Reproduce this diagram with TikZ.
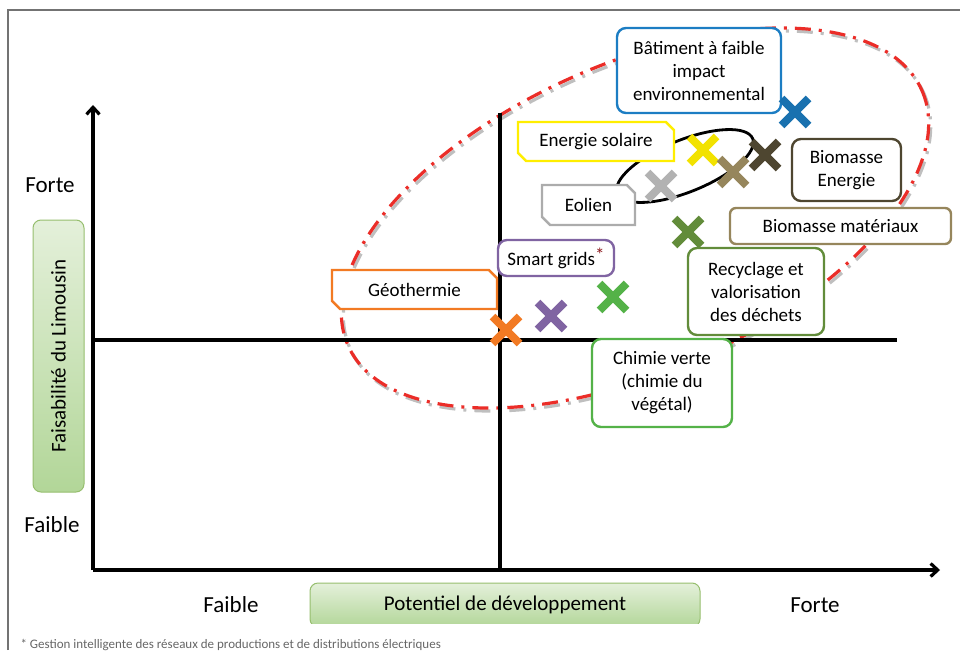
\documentclass[tikz,border=0pt]{standalone}
\usepackage{fontspec}
\setmainfont{Carlito}
\usetikzlibrary{arrows,arrows.meta,positioning,shapes.misc}
\definecolor{bleu}{RGB}{28,125,195}
\definecolor{jaune}{RGB}{255,238,0}
\definecolor{grisclair}{RGB}{172,172,172}
\definecolor{orange}{RGB}{242,122,35}
\definecolor{violet}{RGB}{128,100,162}
\definecolor{brunfonce}{RGB}{78,70,48}
\definecolor{brunclair}{RGB}{150,134,92}
\definecolor{vertolive}{RGB}{98,140,58}
\definecolor{vertvif}{RGB}{84,178,72}
\definecolor{rougezone}{RGB}{235,45,40}
\definecolor{vertpale}{RGB}{228,240,218}
\definecolor{vertfonce}{RGB}{178,214,152}
\definecolor{bordvert}{RGB}{150,190,110}
\definecolor{etoile}{RGB}{140,25,30}
\newcommand\etiq{\fontsize{19}{23}\selectfont}
\newcommand\axetxt{\fontsize{21}{25}\selectfont}
\newcommand\grand{\fontsize{23}{27}\selectfont}
\newcommand\petit{\fontsize{13}{15}\selectfont}
\tikzset{etiquette/.style={
    % The shape:
    rectangle,
    rounded corners=9pt,
    % The border:
    line width=2.4pt,
    draw=#1,
    fill=white,
    % Font
    font=\etiq,
    align=center,
    inner sep=2pt
    },
    coupee/.style={
    chamfered rectangle,
    chamfered rectangle corners={north east,south west},
    chamfered rectangle xsep=5pt,
    line width=2.4pt,
    draw=#1,
    fill=white,
    font=\etiq,
    inner sep=2pt
    },
    croix/.style={
    cross out,
    draw=#1,
    line width=8pt,
    minimum size=19pt,
    inner sep=0pt
    },
    cadrevert/.style={
    rectangle,rounded corners=8pt,
    line width=1pt,
    draw=bordvert,
    top color=vertpale, bottom color=vertfonce,
    font=\axetxt
    },
    axe/.style={line width=3.2pt},
    zone/.style={line width=3.2pt, draw=rougezone,
    dash pattern=on 16pt off 8pt on 3pt off 8pt},
}

\begin{document}
\begin{tikzpicture}[x=1pt,y=-1pt]
  \useasboundingbox (0,0) rectangle (960,650);
  \draw[black!55,line width=1.5pt] (8,650) -- (8,10) -- (960,10);

  % zones
  \draw[zone,draw=black!25,rotate around={24:(637,221)}] (637,221) ellipse [x radius=314, y radius=154];
  \draw[zone,rotate around={24:(635,218)}] (635,218) ellipse [x radius=314, y radius=154];
  \draw[line width=2.8pt,rotate around={22:(685,166)}] (685,166) ellipse [x radius=73, y radius=26];

  % axes
  \coordinate (o) at (93,570);
  \coordinate (haut) at (93,105);
  \coordinate (droite) at (940,570);
  \coordinate (mg) at (93,340);
  \coordinate (md) at (897,340);
  \coordinate (mh) at (500,113);
  \draw[axe,-{Straight Barb[length=7pt,width=13pt]}] (o) -- (haut);
  \draw[axe,-{Straight Barb[length=7pt,width=13pt]}] (o) -- (droite);
  \draw[axe] (mg) -- (md);
  \draw[axe] (mh) -- (mh |- o);

  \node (fortey)  [font=\grand] at (50,185) {Forte};
  \node (faibley) [font=\grand] at (52,525) {Faible};
  \node (faiblex) [font=\grand] at (231,605) {Faible};
  \node (fortex)  [font=\grand] at (815,605) {Forte};

  \node (faisabilite) [cadrevert,rotate=90,minimum width=272pt,minimum height=51pt] at (58.5,356) {Faisabilité du Limousin};
  \begin{scope}
    \clip (300,575) rectangle (710,623);
    \node (potentiel) [cadrevert,minimum width=390pt,minimum height=44pt] at (505,605) {Potentiel de développement};
  \end{scope}

  % labels
  \node (batiment)    [etiquette=bleu,minimum width=164pt,minimum height=85pt] at (699,70.5) {Bâtiment à faible\\impact\\environnemental};
  \node (solaire)     [coupee=jaune,minimum width=156pt,minimum height=39pt] at (596,141.5) {Energie solaire};
  \node (eolien)      [coupee=grisclair,minimum width=93pt,minimum height=40pt] at (588.5,205) {Eolien};
  \node (geothermie)  [coupee=orange,minimum width=165pt,minimum height=39pt] at (414.5,289.5) {Géothermie};
  \node (smartgrids)  [etiquette=violet,minimum width=116pt,minimum height=36pt] at (556,258) {Smart grids\raisebox{4pt}{\color{etoile}*}};
  \node (bioenergie)  [etiquette=brunfonce,minimum width=109pt,minimum height=62pt] at (846.5,170) {Biomasse\\Energie};
  \node (biomateriaux)[etiquette=brunclair,minimum width=221pt,minimum height=36pt,rounded corners=6pt] at (840.5,226) {Biomasse matériaux};
  \node (recyclage)   [etiquette=vertolive,minimum width=136pt,minimum height=87pt] at (756,291.5) {Recyclage et\\valorisation\\des déchets};
  \node (chimie)      [etiquette=vertvif,minimum width=140pt,minimum height=88pt] at (662,383) {Chimie verte\\(chimie du\\végétal)};

  % crosses
  \node (xbatiment)  [croix=bleu!90!black] at (795,112) {};
  \node (xsolaire)   [croix=jaune!95!black] at (703,150) {};
  \node (xbiomat)    [croix=brunclair] at (733,172) {};
  \node (xbioenergie)[croix=brunfonce] at (765,155) {};
  \node (xeolien)    [croix=black!30] at (661,186) {};
  \node (xrecyclage) [croix=vertolive] at (688,232) {};
  \node (xchimie)    [croix=vertvif] at (613,297) {};
  \node (xsmart)     [croix=violet] at (551,316) {};
  \node (xgeo)       [croix=orange] at (506,330) {};

  \node (note) [anchor=base west,font=\petit,text=black!60] at (17,648) {* Gestion intelligente des réseaux de productions et de distributions électriques};
\end{tikzpicture}
\end{document}
